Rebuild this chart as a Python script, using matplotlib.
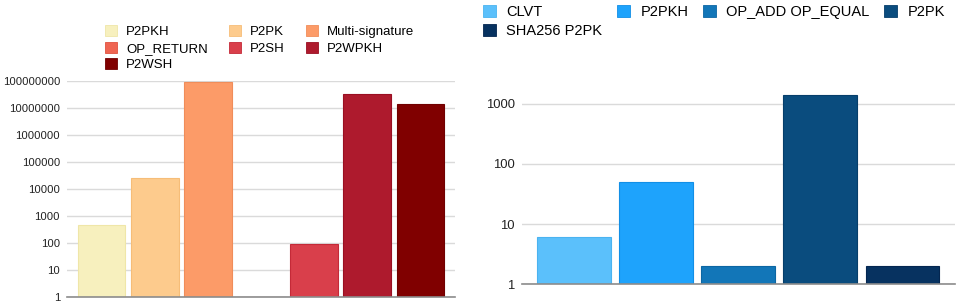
import matplotlib
matplotlib.use("Agg")
import matplotlib.pyplot as plt
from matplotlib.patches import Patch

plt.rcParams['font.family'] = ['Liberation Sans', 'DejaVu Sans']

# Left chart: output script types (log scale)
left_labels = ['P2PKH', 'P2PK', 'Multi-signature', 'OP_RETURN', 'P2SH', 'P2WPKH', 'P2WSH']
left_values = [460, 25500, 95000000, 1, 88, 34000000, 14500000]
left_colors = ['#f7f0be', '#fdcb8d', '#fc9b68', '#ef6552', '#d93f4b', '#ae1a2d', '#800000']
left_edges = ['#efe6a8', '#f6bd78', '#f08d5a', '#e0523f', '#c42a38', '#9a0f22', '#700000']
left_ticks = [1, 10, 100, 1000, 10000, 100000, 1000000, 10000000, 100000000]

# Right chart: non-standard script types (log scale)
right_labels = ['CLVT', 'P2PKH', 'OP_ADD OP_EQUAL', 'P2PK', 'SHA256 P2PK']
right_values = [6, 50, 2, 1400, 2]
right_colors = ['#5bc0fb', '#1ea3fc', '#1276b8', '#0a4c7e', '#073260']
right_edges = ['#4ab3f0', '#128fe6', '#0c66a3', '#063e6b', '#042650']
right_ticks = [1, 10, 100, 1000]

W, H = 957, 302
fig = plt.figure(figsize=(W / 100, H / 100), dpi=100)


def px_axes(x0, y_top, x1, y_bot):
    return fig.add_axes([x0 / W, 1 - y_bot / H, (x1 - x0) / W, (y_bot - y_top) / H])


def style_axes(ax, ticks, fontsize):
    ax.set_yscale('log')
    ax.set_yticks(ticks)
    ax.set_yticklabels([str(t) for t in ticks], fontsize=fontsize, color='#222222')
    ax.yaxis.set_minor_locator(matplotlib.ticker.NullLocator())
    ax.tick_params(axis='y', length=0, pad=5)
    ax.set_xticks([])
    for s in ['top', 'right', 'left']:
        ax.spines[s].set_visible(False)
    ax.spines['bottom'].set_color('#8c8c8c')
    ax.spines['bottom'].set_linewidth(1.2)
    ax.grid(axis='y', color='#dadada', linewidth=1.0)
    ax.set_axisbelow(True)


def row_major(items, ncol):
    # matplotlib fills legend columns first; reorder so entries read across rows
    rows = -(-len(items) // ncol)
    return [items[r * ncol + c] for c in range(ncol) for r in range(rows) if r * ncol + c < len(items)]


# left panel
ax1 = px_axes(67, 81.0, 455, 296.8)
x = range(len(left_values))
ax1.bar(x, left_values, width=0.9, color=left_colors, edgecolor=left_edges, linewidth=0.8)
ax1.set_xlim(-0.65, len(left_values) - 0.35)
ax1.set_ylim(1, 100000000)
style_axes(ax1, left_ticks, 8.1)

# right panel
ax2 = px_axes(521.7, 85.6, 955, 284.3)
x = range(len(right_values))
ax2.bar(x, right_values, width=0.9, color=right_colors, edgecolor=right_edges, linewidth=0.8)
ax2.set_xlim(-0.64, len(right_values) - 0.36)
ax2.set_ylim(1, 2000)
style_axes(ax2, right_ticks, 9.4)

# legends
h1 = [Patch(facecolor=c, edgecolor=e, linewidth=0.6) for c, e in zip(left_colors, left_edges)]
fig.legend(row_major(h1, 3), row_major(left_labels, 3), ncol=3, loc='upper left',
           bbox_to_anchor=(105 / W, 1 - 25 / H),
           frameon=False, fontsize=9.5, borderpad=0, borderaxespad=0, handlelength=0.9,
           handleheight=0.9, handletextpad=0.7, columnspacing=1.6, labelspacing=0.28)

h2 = [Patch(facecolor=c, edgecolor=e, linewidth=0.6) for c, e in zip(right_colors, right_edges)]
fig.legend(row_major(h2, 4), row_major(right_labels, 4), ncol=4, loc='upper left',
           bbox_to_anchor=(483 / W, 1 - 5 / H),
           frameon=False, fontsize=10.5, borderpad=0, borderaxespad=0, handlelength=0.9,
           handleheight=0.9, handletextpad=0.7, columnspacing=1.0, labelspacing=0.32)

fig.savefig('out.png', dpi=100)
